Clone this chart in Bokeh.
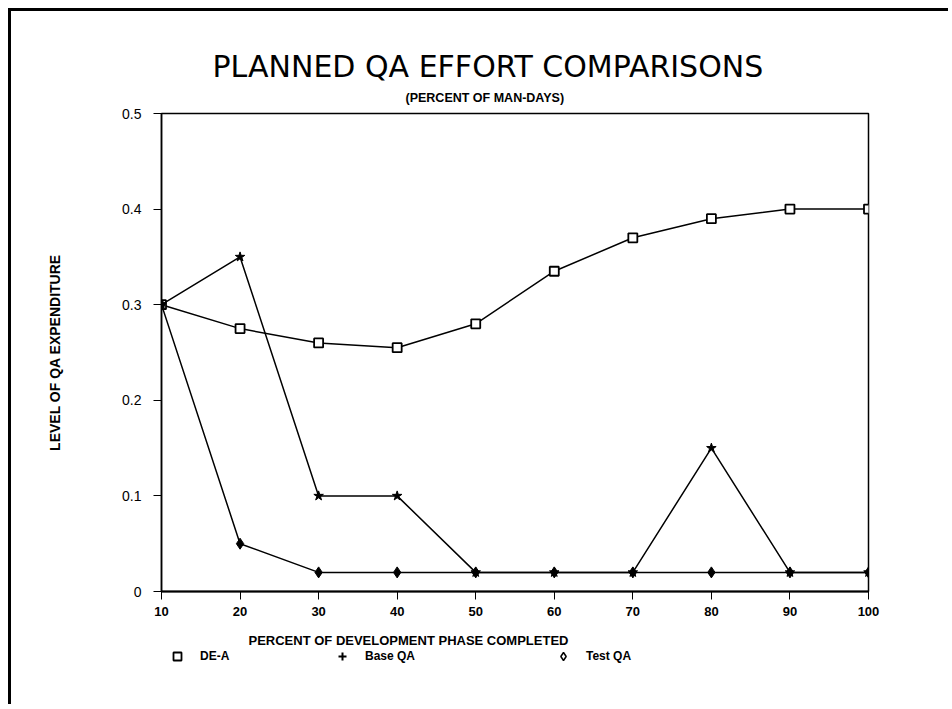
from bokeh.plotting import figure
from bokeh.layouts import column
from bokeh.models import Title, Legend, LegendItem, FixedTicker, Range1d, Label
from bokeh.embed import file_html
from bokeh.resources import INLINE

# ---- data ----
pct_completed = [10, 20, 30, 40, 50, 60, 70, 80, 90, 100]
de_a = [0.30, 0.275, 0.26, 0.255, 0.28, 0.335, 0.37, 0.39, 0.40, 0.40]
base_qa = [0.30, 0.35, 0.10, 0.10, 0.02, 0.02, 0.02, 0.15, 0.02, 0.02]
test_qa = [0.30, 0.05, 0.02, 0.02, 0.02, 0.02, 0.02, 0.02, 0.02, 0.02]
x_ticks = [10, 20, 30, 40, 50, 60, 70, 80, 90, 100]
y_ticks = [0, 0.1, 0.2, 0.3, 0.4, 0.5]
y_tick_labels = ["0", "0.1", "0.2", "0.3", "0.4", "0.5"]
series_names = ["DE-A", "Base QA", "Test QA"]
title_text = "PLANNED QA EFFORT COMPARISONS"
subtitle_text = "(PERCENT OF MAN-DAYS)"
x_label = "PERCENT OF DEVELOPMENT PHASE COMPLETED"
y_label = "LEVEL OF QA EXPENDITURE"

FONT = "Liberation Sans"
TOTAL_W = 937

# ---------------- main chart ----------------
p = figure(
    frame_width=707, frame_height=478,
    x_range=Range1d(10, 100), y_range=Range1d(0, 0.5),
    output_backend="svg", toolbar_location=None, title=None,
    min_border_left=150, min_border_right=80,
    min_border_top=102, min_border_bottom=0,
)
p.background_fill_color = "white"
p.border_fill_color = "white"
p.outline_line_color = "black"
p.outline_line_width = 1.5
p.grid.visible = False

# titles (first added = nearest the frame)
p.add_layout(Title(text=subtitle_text, align="left", offset=244,
                   text_color="black",
                   text_font=FONT, text_font_size="12.5px", text_font_style="bold",
                   standoff=18), "above")
p.add_layout(Title(text=title_text, align="left", offset=51,
                   text_color="black",
                   text_font="DejaVu Sans", text_font_size="30px", text_font_style="normal",
                   standoff=-8), "above")

# axes
p.xaxis.ticker = FixedTicker(ticks=x_ticks)
p.yaxis.ticker = FixedTicker(ticks=y_ticks)
p.yaxis.major_label_overrides = {t: l for t, l in zip(y_ticks, y_tick_labels)}
for ax in (p.xaxis, p.yaxis):
    ax.axis_line_color = "black"
    ax.major_tick_line_color = "black"
    ax.major_tick_in = 0
    ax.major_tick_out = 8
    ax.minor_tick_line_color = None
    ax.major_label_text_color = "black"
    ax.major_label_text_font = FONT
p.xaxis.axis_line_width = 2
p.yaxis.axis_line_width = 1.5
p.xaxis.major_label_text_font_size = "13px"
p.xaxis.major_label_text_font_style = "bold"
p.xaxis.major_label_standoff = 7
p.yaxis.major_label_text_font_size = "14px"
p.yaxis.major_label_standoff = 12
p.yaxis.axis_label = y_label
p.yaxis.axis_label_text_color = "black"
p.yaxis.axis_label_text_font = FONT
p.yaxis.axis_label_text_font_size = "14px"
p.yaxis.axis_label_text_font_style = "bold"
p.yaxis.axis_label_standoff = 56

# series
lw = 1.5
p.line(pct_completed, de_a, line_color="black", line_width=lw)
p.scatter(pct_completed, de_a, marker="square", size=9, fill_color="white",
          line_color="black", line_width=1.8)
p.line(pct_completed, base_qa, line_color="black", line_width=lw)
p.scatter(pct_completed, base_qa, marker="star", size=10, fill_color="black",
          line_color="black")
p.line(pct_completed, test_qa, line_color="black", line_width=lw)
p.scatter(pct_completed, test_qa, marker="diamond", size=11, fill_color="black",
          line_color="black")

# ---------------- strip below: axis title + legend ----------------
# q's frame is aligned with p's frame by the column layout (707 px wide);
# its ranges are pixel-like so the series used for the legend keys fall
# outside the visible strip.
H2 = 86
q = figure(width=TOTAL_W, height=H2, x_range=Range1d(0, 707), y_range=Range1d(-100, -14),
           x_axis_type=None, y_axis_type=None, output_backend="svg",
           toolbar_location=None, min_border=0)
q.grid.visible = False
q.outline_line_color = None
q.background_fill_color = "white"
q.border_fill_color = "white"

q.add_layout(Label(x=87, y=-100 + 64, text=x_label, text_align="left",
                   text_baseline="middle",
                   text_color="black", text_font=FONT, text_font_size="13px",
                   text_font_style="bold"))

leg_sq = q.scatter(pct_completed, de_a, marker="square", fill_color=None,
                   line_color="black", line_width=1.8)
leg_plus = q.scatter(pct_completed, base_qa, marker="cross", line_color="black",
                     line_width=2)
leg_dia = q.scatter(pct_completed, test_qa, marker="diamond", fill_color=None,
                    line_color="black", line_width=1.5)

for name, r, loc in zip(series_names, [leg_sq, leg_plus, leg_dia],
                        [(6, 38), (171, 38), (392, 38)]):
    lg = Legend(items=[LegendItem(label=name, renderers=[r])], location=loc,
                orientation="horizontal", border_line_color=None,
                background_fill_alpha=0, padding=0, margin=0, spacing=0,
                glyph_width=20, glyph_height=20, label_standoff=13,
                label_text_font=FONT, label_text_font_size="12px",
                label_text_font_style="bold", label_text_color="black")
    q.add_layout(lg, "center")

layout = column(p, q, spacing=0)
layout.styles = {"border-left": "3px solid black", "border-top": "3px solid black",
                 "margin-left": "8px", "margin-top": "8px"}

open("out.html", "w").write(file_html(layout, INLINE))
